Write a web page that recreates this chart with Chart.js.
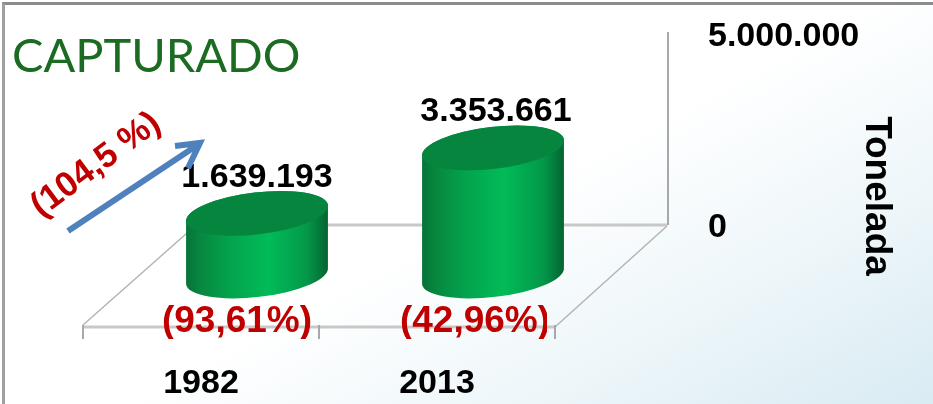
<!DOCTYPE html>
<html>
<head>
<meta charset="utf-8">
<title>Capturado</title>
<script src="https://cdn.jsdelivr.net/npm/chart.js@4/dist/chart.umd.min.js"></script>
<style>
  html, body { margin: 0; padding: 0; }
  body {
    width: 933px; height: 404px; overflow: hidden; position: relative;
    background: linear-gradient(152deg, #ffffff 0%, #ffffff 52%, #eff7fa 74%, #d9ebf3 100%);
  }
  #frame {
    position: absolute; left: 2px; top: 2px; right: 0; bottom: 0;
    border-top: 3px solid #8c8c8c; border-left: 3px solid #a0a0a0;
  }
  canvas { position: absolute; left: 0; top: 0; }
</style>
</head>
<body>
<div id="frame"></div>
<canvas id="grafik" width="933" height="404"></canvas>
<script>
const categories = ['1982', '2013'];
const toneladas = [1639193, 3353661];
const valueLabels = ['1.639.193', '3.353.661'];
const shareLabels = ['(93,61%)', '(42,96%)'];
const tickLabels = ['0', '5.000.000'];
const yMax = 5000000;

const BOLD = '"Liberation Sans", sans-serif';
const RED = '#c00000';

// floor depth of the fake 3d box
const depthX = 112, depthY = -101;
// bars stand half way into the floor
const barDX = 56, barDY = 48;

function text(ctx, str, x, y, font, color, align) {
  ctx.font = font;
  ctx.fillStyle = color;
  ctx.textAlign = align || 'center';
  ctx.textBaseline = 'middle';
  ctx.fillText(str, x, y);
}

function drawBox(chart) {
  const { ctx, chartArea: a, scales } = chart;
  const front = a.bottom + 99;
  const backY = a.bottom - 3;
  ctx.save();
  ctx.lineCap = 'butt';

  ctx.strokeStyle = '#c8c8c8';
  ctx.lineWidth = 3;
  ctx.beginPath();
  ctx.moveTo(a.left + depthX, backY);
  ctx.lineTo(a.right + depthX, backY);
  ctx.moveTo(a.left, front);
  ctx.lineTo(a.right, front);
  ctx.stroke();

  ctx.strokeStyle = '#b4b4b4';
  ctx.lineWidth = 1.5;
  ctx.beginPath();
  ctx.moveTo(a.left, front - 2);
  ctx.lineTo(a.left + depthX, front + depthY);
  ctx.moveTo(a.right, front);
  ctx.lineTo(a.right + depthX, front + depthY);
  ctx.stroke();

  ctx.strokeStyle = '#a8a8a8';
  ctx.lineWidth = 2;
  ctx.beginPath();
  ctx.moveTo(a.right + depthX + 1, a.top - 5);
  ctx.lineTo(a.right + depthX + 1, backY);
  const step = (a.right - a.left) / scales.x.ticks.length;
  for (let i = 0; i <= scales.x.ticks.length; i++) {
    const tx = a.left + step * i;
    ctx.moveTo(tx, front - 2);
    ctx.lineTo(tx, front + 12);
  }
  ctx.stroke();
  ctx.restore();
}

function drawCylinder(ctx, el) {
  const cx = el.x + barDX;
  const top = el.y + barDY;
  const base = el.base + barDY;
  const rx = el.width / 2;
  const ry = 21;
  const rot = -0.115;

  const g = ctx.createLinearGradient(cx - rx, 0, cx + rx, 0);
  g.addColorStop(0, '#067238');
  g.addColorStop(0.1, '#07873f');
  g.addColorStop(0.3, '#03a24c');
  g.addColorStop(0.58, '#02bb58');
  g.addColorStop(0.85, '#03984a');
  g.addColorStop(1, '#056230');

  ctx.save();
  ctx.beginPath();
  ctx.ellipse(cx, base, rx, ry, rot, 0, Math.PI);
  ctx.ellipse(cx, top, rx, ry, rot, Math.PI, Math.PI * 2);
  ctx.closePath();
  ctx.fillStyle = g;
  ctx.fill();

  ctx.beginPath();
  ctx.ellipse(cx, top, rx, ry, rot, 0, Math.PI * 2);
  ctx.fillStyle = '#06853f';
  ctx.fill();
  ctx.restore();
}

const decor = {
  id: 'decor',
  beforeDatasetsDraw(chart) {
    drawBox(chart);
  },
  afterDatasetsDraw(chart) {
    const { ctx, chartArea: a } = chart;
    const bars = chart.getDatasetMeta(0).data;
    bars.forEach(el => drawCylinder(ctx, el));

    const front = a.bottom + 99;
    bars.forEach((el, i) => {
      text(ctx, valueLabels[i], el.x + barDX + i * 3, el.y + barDY - 36, 'bold 34px ' + BOLD, '#000');
      // the red labels get cut off at the axis ticks
      ctx.save();
      ctx.beginPath();
      ctx.rect(el.x - 60, front - 30, 170, 42);
      ctx.clip();
      text(ctx, shareLabels[i], el.x + 36 + i * 2, front - 5, 'bold 37px ' + BOLD, RED);
      ctx.restore();
    });

    text(ctx, 'CAPTURADO', 12, 57, '47px Lato, sans-serif', '#1b6b22', 'left');

    ctx.save();
    ctx.translate(96, 165);
    ctx.rotate(-0.64);
    text(ctx, '(104,5 %)', 0, 0, 'bold 35px ' + BOLD, RED);
    ctx.restore();

    // growth arrow
    ctx.save();
    ctx.strokeStyle = '#4f81bd';
    ctx.lineWidth = 6;
    ctx.beginPath();
    ctx.moveTo(68, 231);
    ctx.lineTo(199, 144);
    ctx.moveTo(175, 146);
    ctx.lineTo(200, 143);
    ctx.lineTo(188, 168);
    ctx.stroke();
    ctx.restore();

    ctx.save();
    ctx.translate(876, 196);
    ctx.rotate(Math.PI / 2);
    text(ctx, 'Tonelada', 0, 0, 'bold 37px ' + BOLD, '#000');
    ctx.restore();
  }
};

new Chart(document.getElementById('grafik'), {
  type: 'bar',
  data: {
    labels: categories,
    datasets: [{
      data: toneladas,
      backgroundColor: 'rgba(0,0,0,0)',
      barPercentage: 1,
      categoryPercentage: 0.605
    }]
  },
  options: {
    responsive: false,
    animation: false,
    layout: { padding: { left: 83, top: 37, right: 0, bottom: 0 } },
    plugins: { legend: { display: false }, tooltip: { enabled: false } },
    scales: {
      x: {
        grid: { display: false },
        border: { display: false },
        afterFit: s => { s.height = 176; s.paddingLeft = 0; s.paddingRight = 0; },
        ticks: {
          padding: 127,
          maxRotation: 0,
          color: '#000',
          font: { family: BOLD, size: 34, weight: 'bold' }
        }
      },
      y: {
        position: 'right',
        min: 0,
        max: yMax,
        grid: { display: false },
        border: { display: false },
        // tick padding would otherwise eat the plot height
        afterFit: s => { s.width = 378; s.paddingTop = 0; s.paddingBottom = 0; },
        ticks: {
          stepSize: yMax,
          padding: 145,
          color: '#000',
          font: { family: BOLD, size: 34, weight: 'bold' },
          callback: (v, i) => tickLabels[i]
        }
      }
    }
  },
  plugins: [decor]
});
</script>
</body>
</html>
